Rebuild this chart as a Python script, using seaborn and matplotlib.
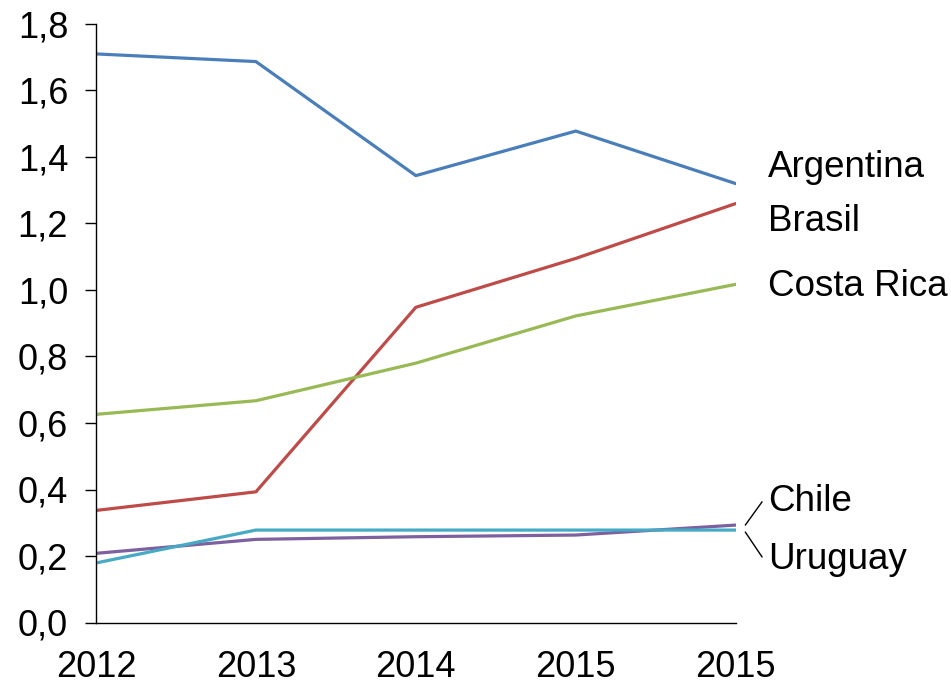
import matplotlib
matplotlib.use("Agg")
import matplotlib.pyplot as plt
import seaborn as sns
import pandas as pd

years = ["2012", "2013", "2014", "2015", "2015"]
countries = ["Argentina", "Brasil", "Costa Rica", "Chile", "Uruguay"]
argentina = [1.71, 1.687, 1.344, 1.478, 1.320]
brasil = [0.337, 0.393, 0.948, 1.095, 1.260]
costa_rica = [0.626, 0.667, 0.780, 0.922, 1.017]
chile = [0.208, 0.250, 0.258, 0.263, 0.293]
uruguay = [0.179, 0.278, 0.278, 0.278, 0.278]
colors = ["#4A7EBB", "#BE4B48", "#98B954", "#7D60A0", "#46AAC5"]
yticks = [0.0, 0.2, 0.4, 0.6, 0.8, 1.0, 1.2, 1.4, 1.6, 1.8]

series = [argentina, brasil, costa_rica, chile, uruguay]
rows = []
for name, vals in zip(countries, series):
    for i, v in enumerate(vals):
        rows.append({"pos": i, "value": v, "country": name})
df = pd.DataFrame(rows)

sns.set_style("white")
plt.rcParams["font.family"] = ["Liberation Sans", "DejaVu Sans"]
plt.rcParams["text.color"] = "black"
plt.rcParams["xtick.color"] = "black"
plt.rcParams["ytick.color"] = "black"

fig = plt.figure(figsize=(9.51, 6.85), dpi=100)
ax = fig.add_axes([96 / 951, 1 - 622.5 / 685, 639.7 / 951, 598.5 / 685])

sns.lineplot(data=df, x="pos", y="value", hue="country",
             palette=dict(zip(countries, colors)), hue_order=countries,
             linewidth=2.3, legend=False, ax=ax, sort=False)

ax.set_xlim(0, len(years) - 1)
ax.set_ylim(0, 1.8)
ax.set_xticks(range(len(years)))
ax.set_xticklabels(years)
ax.set_yticks(yticks)
ax.set_yticklabels([f"{t:.1f}".replace(".", ",") for t in yticks])
ax.set_xlabel("")
ax.set_ylabel("")

for s in ["top", "right"]:
    ax.spines[s].set_visible(False)
for s in ["left", "bottom"]:
    ax.spines[s].set_color("black")
    ax.spines[s].set_linewidth(1.0)

ax.tick_params(axis="y", direction="out", length=8, width=1, color="black",
               labelcolor="black", labelsize=26, pad=12, left=True)
ax.tick_params(axis="x", length=0, labelsize=26, labelcolor="black", pad=20)

label_y = {"Argentina": 1.368, "Brasil": 1.205, "Costa Rica": 1.01,
           "Chile": 0.363, "Uruguay": 0.188}
for name in countries:
    ax.text(4.2, label_y[name], name, fontsize=26.5, ha="left", va="center",
            color="black", clip_on=False)

ax.plot([4.06, 4.165], [0.293, 0.363], color="black", lw=1, clip_on=False)
ax.plot([4.06, 4.165], [0.272, 0.197], color="black", lw=1, clip_on=False)

fig.savefig("out.png", dpi=100)
